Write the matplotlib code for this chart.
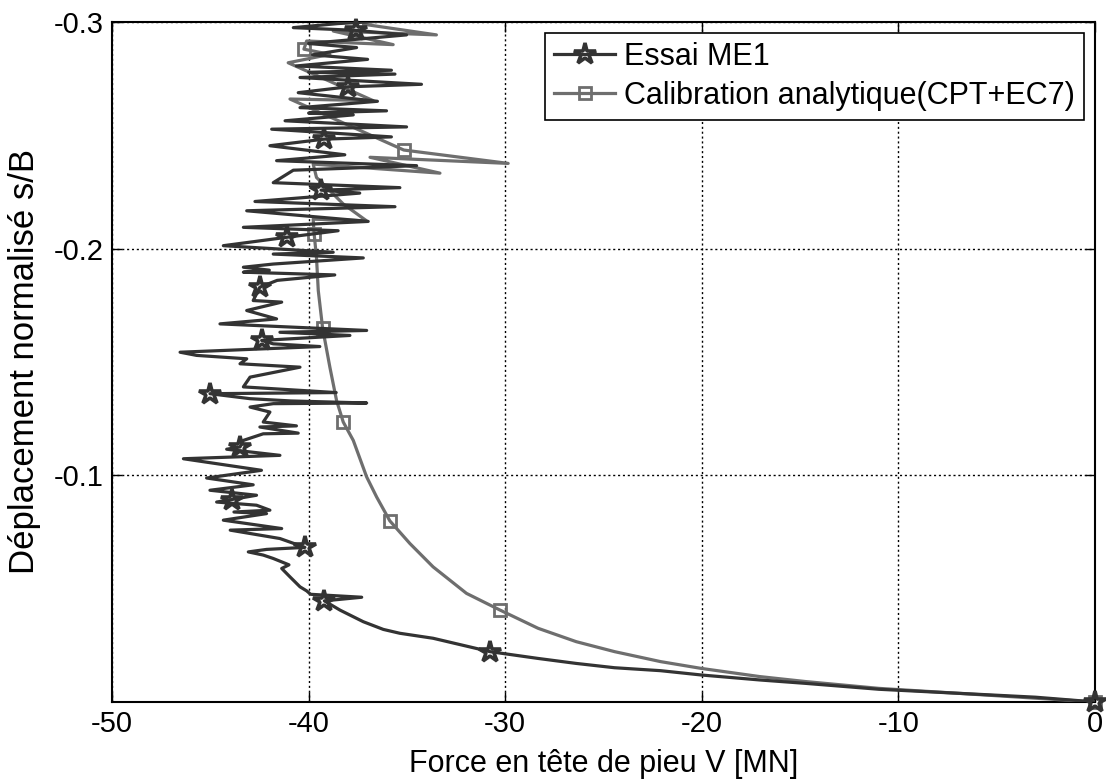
import matplotlib
matplotlib.use("Agg")
import matplotlib.pyplot as plt
from matplotlib.lines import Line2D

plt.rcParams["font.family"] = ["Liberation Sans", "DejaVu Sans"]

# Essai ME1 (force MN, s/B)
essai_x = [0, -3.03, -6.93, -11.0, -14.72, -17.05, -20.03, -22.1, -24.44, -26.39, -28.33,
           -30.78, -33.67, -35.36, -36.2, -37.22, -38.4, -39.2, -37.3, -39.9, -40.1, -40.44,
           -40.95, -41.37, -41.0, -41.8, -42.31, -43.07, -42.14, -40.19, -41.46, -43.99,
           -41.37, -44.34, -42.14, -43.8, -41.97, -42.65, -44.68, -43.92, -42.65, -45.02,
           -42.82, -45.19, -42.4, -46.37, -41.46, -44.17, -43.49, -43.32, -42.31, -40.53,
           -42.48, -40.62, -42.31, -41.97, -42.98, -41.8, -37.05, -40.9, -42.98, -45.02,
           -38.6, -43.32, -42.98, -40.44, -43.49, -43.15, -45.7, -46.54, -39.43, -41.8,
           -42.39, -37.9, -41.46, -37.05, -44.51, -41.63, -43.15, -41.37, -42.82, -42.48,
           -41.6, -38.67, -43.32, -42.0, -43.32, -41.8, -37.22, -41.8, -38.75, -44.34,
           -41.12, -38.5, -43.32, -36.97, -43.15, -35.61, -42.73, -37.4, -39.37, -35.36,
           -41.8, -40.78, -34.51, -41.63, -38.16, -41.97, -39.22, -35.79, -41.88, -35.02,
           -41.2, -37.73, -40.0, -36.04, -40.44, -36.5, -40.53, -37.99, -34.26, -40.44,
           -35.61, -40.0, -35.79, -40.62, -37.0, -39.8, -37.56, -40.0, -35.02, -37.6,
           -40.78, -38.49, -36.0]
essai_y = [0, -0.0021, -0.0038, -0.0056, -0.0082, -0.0097, -0.0119, -0.0138, -0.0151, -0.0170,
           -0.0192, -0.0222, -0.0281, -0.0303, -0.032, -0.0354, -0.0405, -0.0446, -0.0462,
           -0.0475, -0.049, -0.0508, -0.0552, -0.0589, -0.0605, -0.0633, -0.0648, -0.0662,
           -0.0673, -0.0682, -0.0721, -0.0758, -0.0765, -0.0802, -0.0831, -0.0838, -0.0846,
           -0.0868, -0.0882, -0.0893, -0.0912, -0.0934, -0.0958, -0.0988, -0.1022, -0.1073,
           -0.1088, -0.1115, -0.1125, -0.1154, -0.1183, -0.1186, -0.1213, -0.1218, -0.1235,
           -0.1279, -0.1301, -0.1316, -0.1319, -0.1328, -0.1338, -0.136, -0.1365, -0.139,
           -0.1433, -0.1477, -0.1492, -0.1514, -0.1529, -0.1543, -0.1568, -0.158, -0.1595,
           -0.1617, -0.1631, -0.1639, -0.1668, -0.169, -0.1727, -0.1764, -0.1771, -0.183,
           -0.186, -0.1884, -0.1896, -0.1905, -0.1918, -0.1932, -0.1959, -0.1976, -0.1984,
           -0.2013, -0.205, -0.2079, -0.2094, -0.212, -0.2167, -0.2185, -0.2208, -0.2245,
           -0.2258, -0.2269, -0.2291, -0.2346, -0.2366, -0.2388, -0.2414, -0.2454, -0.2483,
           -0.2493, -0.2527, -0.2537, -0.2564, -0.259, -0.2598, -0.2608, -0.2622, -0.265,
           -0.2688, -0.2714, -0.2725, -0.2755, -0.277, -0.2778, -0.2787, -0.2806, -0.2835,
           -0.2855, -0.2887, -0.2905, -0.2943, -0.2963, -0.2975, -0.2993, -0.3005]
essai_marks = [0, 11, 17, 29, 39, 48, 61, 72, 81, 92, 100, 108, 119, 131]

# Calibration analytique (CPT+EC7)
calib_x = [0, -6.93, -11.0, -14.72, -17.06, -20.03, -22.1, -24.44, -26.39, -28.33, -30.28,
           -31.97, -33.67, -34.85, -35.87, -36.54, -37.05, -37.73, -38.24, -38.58, -38.92,
           -39.29, -39.51, -39.6, -39.72, -39.77, -37.06, -38.24, -39.6, -39.77, -33.32,
           -36.88, -29.85, -35.16, -40.95, -36.72, -41.04, -38.92, -40.24, -40.1, -35.7,
           -38.75, -33.5, -37.2]
calib_y = [0, -0.0038, -0.006, -0.009, -0.0112, -0.0148, -0.0178, -0.0222, -0.0266, -0.0325,
           -0.0406, -0.0479, -0.0596, -0.0699, -0.0799, -0.0904, -0.0993, -0.1154, -0.1235,
           -0.133, -0.1477, -0.165, -0.1815, -0.196, -0.2065, -0.213, -0.2123, -0.2197,
           -0.2314, -0.2373, -0.2333, -0.2403, -0.2376, -0.2435, -0.266, -0.2653, -0.282,
           -0.2857, -0.288, -0.2916, -0.29, -0.296, -0.2943, -0.299]
calib_marks = [0, 10, 14, 18, 21, 24, 33, 38]

dark = "#333333"
gray = "#6e6e6e"

fig = plt.figure(figsize=(11.06, 7.79), dpi=100)
ax = fig.add_axes([0.1013, 0.0989, 0.8888, 0.8729])

ax.plot(calib_x, calib_y, color=gray, lw=2.3, zorder=3)
ax.plot([calib_x[i] for i in calib_marks], [calib_y[i] for i in calib_marks], ls="none",
        marker="s", ms=9, mfc="none", mec=gray, mew=2, zorder=4, clip_on=False)
ax.plot(essai_x, essai_y, color=dark, lw=2.3, zorder=5)
ax.plot([essai_x[i] for i in essai_marks], [essai_y[i] for i in essai_marks], ls="none",
        marker="*", ms=16, mfc="none", mec=dark, mew=2.6, zorder=6, clip_on=False)

ax.set_xlim(-50, 0)
ax.set_ylim(0, -0.3)
ax.set_xticks([-50, -40, -30, -20, -10, 0])
ax.set_yticks([-0.3, -0.2, -0.1])
ax.set_xticklabels(["-50", "-40", "-30", "-20", "-10", "0"])
ax.set_yticklabels(["-0.3", "-0.2", "-0.1"])
ax.tick_params(direction="in", length=7, width=1, top=True, right=True, labelsize=21, pad=6)
ax.grid(True, color="black", ls=(0, (1.5, 2)), lw=1)
for s in ax.spines.values():
    s.set_linewidth(1.5)

ax.set_xlabel("Force en tête de pieu V [MN]", fontsize=22, labelpad=8)
ax.set_ylabel("Déplacement normalisé s/B", fontsize=25, labelpad=9)

handles = [Line2D([], [], color=dark, lw=2.3, marker="*", ms=16, mfc="none", mec=dark, mew=2.6),
           Line2D([], [], color=gray, lw=2.3, marker="s", ms=9, mfc="none", mec=gray, mew=2)]
leg = ax.legend(handles, ["Essai ME1", "Calibration analytique(CPT+EC7)"], loc="upper right",
                fontsize=22, numpoints=1, handlelength=2.0, handletextpad=0.3,
                borderaxespad=0.35, borderpad=0.3, labelspacing=0.3, fancybox=False,
                framealpha=1, edgecolor="black")
leg.get_frame().set_linewidth(1.2)

fig.savefig("out.png", dpi=100)
